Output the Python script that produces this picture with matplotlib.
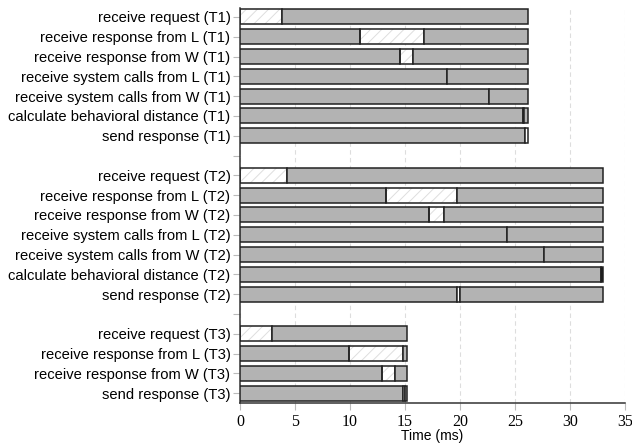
import matplotlib
matplotlib.use("Agg")
import matplotlib.pyplot as plt

# Row labels ("" = spacer rows between groups)
labels = [
    "receive request (T1)", "receive response from L (T1)", "receive response from W (T1)",
    "receive system calls from L (T1)", "receive system calls from W (T1)",
    "calculate behavioral distance (T1)", "send response (T1)",
    "",
    "receive request (T2)", "receive response from L (T2)", "receive response from W (T2)",
    "receive system calls from L (T2)", "receive system calls from W (T2)",
    "calculate behavioral distance (T2)", "send response (T2)",
    "",
    "receive request (T3)", "receive response from L (T3)", "receive response from W (T3)",
    "send response (T3)",
]

# Segments per row: list of (start, end, kind); kind: g=gray, h=hatched, w=white, k=black
segments = [
    [(0, 3.85, "h"), (3.85, 26.15, "g")],
    [(0, 10.9, "g"), (10.9, 16.76, "h"), (16.76, 26.15, "g")],
    [(0, 14.5, "g"), (14.5, 15.76, "h"), (15.76, 26.15, "g")],
    [(0, 18.8, "g"), (18.8, 26.15, "g")],
    [(0, 22.6, "g"), (22.6, 26.15, "g")],
    [(0, 25.75, "g"), (25.75, 25.85, "k"), (25.85, 26.15, "g")],
    [(0, 25.9, "g"), (25.9, 26.15, "w")],
    [],
    [(0, 4.3, "h"), (4.3, 33.03, "g")],
    [(0, 13.3, "g"), (13.3, 19.75, "h"), (19.75, 33.03, "g")],
    [(0, 17.2, "g"), (17.2, 18.57, "h"), (18.57, 33.03, "g")],
    [(0, 24.24, "g"), (24.24, 33.03, "g")],
    [(0, 27.6, "g"), (27.6, 33.03, "g")],
    [(0, 32.85, "g"), (32.85, 33.03, "k")],
    [(0, 19.75, "g"), (19.75, 20.0, "w"), (20.0, 33.03, "g")],
    [],
    [(0, 2.94, "h"), (2.94, 15.15, "g")],
    [(0, 9.94, "g"), (9.94, 14.85, "h"), (14.85, 15.15, "g")],
    [(0, 12.94, "g"), (12.94, 14.06, "h"), (14.06, 15.15, "g")],
    [(0, 14.85, "g"), (14.85, 15.0, "w"), (15.0, 15.15, "g")],
]

xticks = [0, 5, 10, 15, 20, 25, 30, 35]

plt.rcParams["hatch.linewidth"] = 0.7

fig = plt.figure(figsize=(6.32, 4.44), dpi=100)
ax = fig.add_axes([0.380, 0.0923, 0.609, 0.8897])

GRAY = "#b3b3b3"
EDGE = "#222222"
H = 0.76
fills = {"g": GRAY, "w": "white", "k": "#111111", "h": "white"}

for i, segs in enumerate(segments):
    for (s, e, kind) in segs:
        if kind == "h":
            ax.barh(i, e - s, left=s, height=H, color="white", edgecolor="#dedede",
                    hatch="///", linewidth=0, zorder=2)
            ax.barh(i, e - s, left=s, height=H, fill=False, edgecolor=EDGE,
                    linewidth=1.1, zorder=3)
        else:
            ax.barh(i, e - s, left=s, height=H, color=fills[kind], edgecolor=EDGE,
                    linewidth=1.1, zorder=3)

ax.set_yticks(range(len(labels)))
ax.set_yticklabels(labels, fontsize=10.6, family="Liberation Sans")
ax.set_ylim(19.5, -0.45)
ax.set_xlim(0, 35)
ax.set_xticks(xticks)
ax.set_xticklabels([str(x) for x in xticks], fontsize=11.5, family="Liberation Serif")
ax.set_xlabel("Time (ms)", fontsize=10, family="Liberation Sans", labelpad=-1)

ax.tick_params(axis="both", color="#bbbbbb", length=5, width=0.8)
ax.tick_params(axis="y", pad=2)
ax.tick_params(axis="x", pad=3)

ax.xaxis.grid(True, linestyle=(0, (4, 3)), color="#dddddd", linewidth=0.8, zorder=0)
ax.set_axisbelow(True)

for sp in ["top", "right"]:
    ax.spines[sp].set_visible(False)
for sp in ["left", "bottom"]:
    ax.spines[sp].set_color("#333333")
    ax.spines[sp].set_linewidth(1.1)

fig.savefig("out.png", dpi=100)
